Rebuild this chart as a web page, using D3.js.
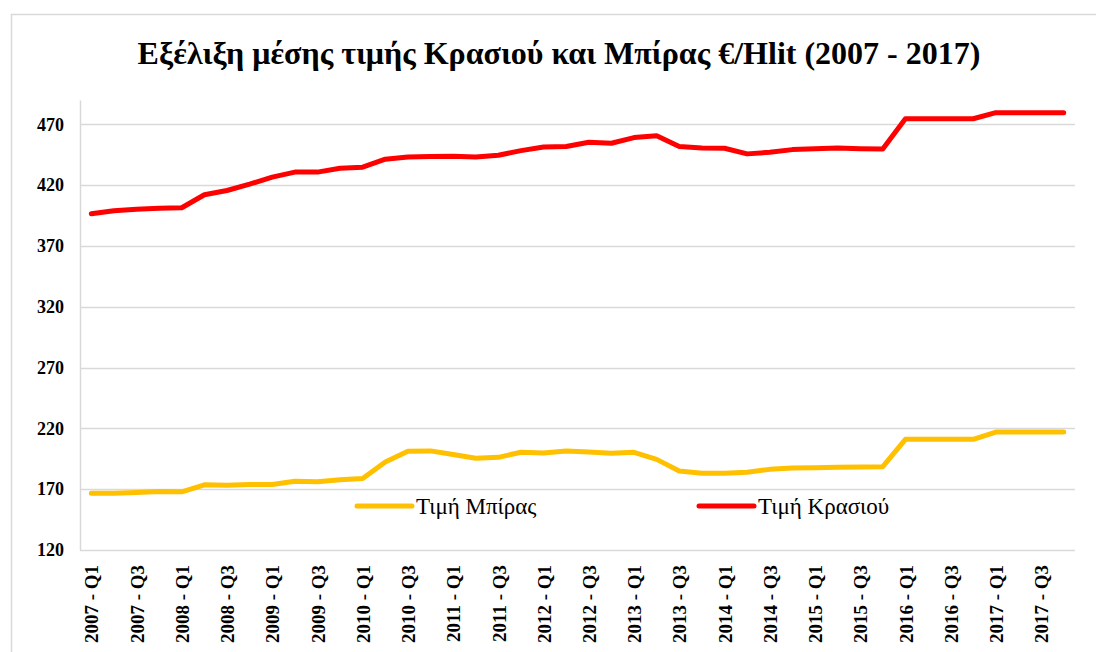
<!DOCTYPE html>
<html>
<head>
<meta charset="utf-8">
<script src="https://cdn.jsdelivr.net/npm/d3@7"></script>
<style>
  body { margin: 0; background: #fff; }
  svg { display: block; }
</style>
</head>
<body>
<div id="chart-area"></div>
<script>
// Quarters 2007 Q1 .. 2017 Q4
var years = [2007, 2008, 2009, 2010, 2011, 2012, 2013, 2014, 2015, 2016, 2017];
var quarters = ["Q1", "Q2", "Q3", "Q4"];

// Average price of beer (€/Hlit)
var beerPrice = [166.7, 166.7, 167.2, 168.0, 167.8, 173.6, 173.3, 173.9, 173.9, 176.6, 176.1,
                 177.7, 178.8, 192.4, 201.2, 201.5, 198.5, 195.4, 196.2, 200.4, 199.8, 201.4,
                 200.5, 199.5, 200.3, 194.5, 185.0, 183.1, 183.1, 184.0, 186.3, 187.4, 187.7,
                 188.0, 188.2, 188.5, 211.0, 211.0, 211.0, 211.0, 217.0, 217.0, 217.0, 217.0];

// Average price of wine (€/Hlit)
var winePrice = [396.5, 399.0, 400.1, 400.9, 401.4, 412.1, 415.6, 420.8, 426.6, 430.7, 430.7,
                 433.9, 434.8, 441.3, 443.2, 443.5, 443.7, 443.2, 444.6, 448.4, 451.4, 451.7,
                 455.2, 454.4, 459.1, 460.7, 451.7, 450.6, 450.3, 445.7, 447.0, 449.2, 450.0,
                 450.6, 450.0, 449.8, 474.6, 474.6, 474.6, 474.6, 479.6, 479.6, 479.6, 479.6];

var yTicks = [120, 170, 220, 270, 320, 370, 420, 470];

var categories = [];
years.forEach(function(yr) {
    quarters.forEach(function(q) { categories.push(yr + " - " + q); });
});

var series = [
    { name: "Τιμή Μπίρας", values: beerPrice, color: "#FFC000", legendX: 357 },
    { name: "Τιμή Κρασιού", values: winePrice, color: "#FF0000", legendX: 699 }
];

var W = 1096, H = 652;
var plot = { left: 80, right: 1075, top: 100, bottom: 550 };
var font = "'Liberation Serif', 'Times New Roman', serif";
var gridColor = "#D9D9D9";

var svg = d3.select("#chart-area")
    .append("svg")
        .attr("width", W)
        .attr("height", H);

// Outer border
svg.append("rect")
    .attr("x", 11.5)
    .attr("y", 14.5)
    .attr("width", 1100)
    .attr("height", 700)
    .attr("fill", "none")
    .attr("stroke", gridColor)
    .attr("stroke-width", 1.5);

// Title
svg.append("text")
    .attr("x", 559)
    .attr("y", 64)
    .attr("text-anchor", "middle")
    .attr("font-family", font)
    .attr("font-weight", "bold")
    .attr("font-size", "32px")
    .attr("fill", "#000")
    .text("Εξέλιξη μέσης τιμής Κρασιού και Μπίρας €/Hlit (2007 - 2017)");

// Scales
var x = d3.scalePoint()
    .domain(categories)
    .range([plot.left, plot.right])
    .padding(0.5);

var y = d3.scaleLinear()
    .domain([120, 490])
    .range([plot.bottom, plot.top]);

// Gridlines
svg.append("g")
    .selectAll("line")
    .data(yTicks.slice(1))
    .enter()
    .append("line")
        .attr("x1", plot.left)
        .attr("x2", plot.right)
        .attr("y1", function(d) { return Math.round(y(d)) + 0.5; })
        .attr("y2", function(d) { return Math.round(y(d)) + 0.5; })
        .attr("stroke", gridColor)
        .attr("stroke-width", 1.5);

// Y Axis
var yAxisCall = d3.axisLeft(y)
    .tickValues(yTicks)
    .tickSize(0)
    .tickPadding(16);
var yAxis = svg.append("g")
    .attr("transform", "translate(" + plot.left + ",0)")
    .call(yAxisCall);
yAxis.select(".domain").attr("stroke", gridColor).attr("stroke-width", 1.5);
yAxis.selectAll("text")
    .attr("font-family", font)
    .attr("font-weight", "bold")
    .attr("font-size", "18px")
    .attr("fill", "#000");

// X Axis
var xAxisCall = d3.axisBottom(x)
    .tickValues(categories.filter(function(d, i) { return i % 2 === 0; }))
    .tickSize(0)
    .tickPadding(0);
var xAxis = svg.append("g")
    .attr("transform", "translate(0," + plot.bottom + ")")
    .call(xAxisCall);
xAxis.select(".domain")
    .attr("d", "M" + plot.left + ",0.5H" + plot.right)
    .attr("stroke", gridColor)
    .attr("stroke-width", 1.5);
xAxis.selectAll("text")
    .attr("font-family", font)
    .attr("font-weight", "bold")
    .attr("font-size", "19px")
    .attr("fill", "#000")
    .attr("text-anchor", "end")
    .attr("transform", "rotate(-90)")
    .attr("x", -15)
    .attr("y", 0)
    .attr("dy", "0.35em");

// Lines
var line = d3.line()
    .x(function(d, i) { return x(categories[i]); })
    .y(function(d) { return y(d); });

svg.append("g")
    .selectAll("path")
    .data(series)
    .enter()
    .append("path")
        .attr("d", function(s) { return line(s.values); })
        .attr("fill", "none")
        .attr("stroke", function(s) { return s.color; })
        .attr("stroke-width", 5)
        .attr("stroke-linejoin", "round")
        .attr("stroke-linecap", "round");

// Legend
var legend = svg.append("g")
    .selectAll("g")
    .data(series)
    .enter()
    .append("g")
        .attr("transform", function(s) { return "translate(" + s.legendX + ",506)"; });

legend.append("line")
    .attr("x1", 0)
    .attr("x2", 55)
    .attr("stroke", function(s) { return s.color; })
    .attr("stroke-width", 5)
    .attr("stroke-linecap", "round");

legend.append("text")
    .attr("x", 59)
    .attr("dy", "0.35em")
    .attr("font-family", font)
    .attr("font-size", "23px")
    .attr("fill", "#000")
    .text(function(s) { return s.name; });
</script>
</body>
</html>
